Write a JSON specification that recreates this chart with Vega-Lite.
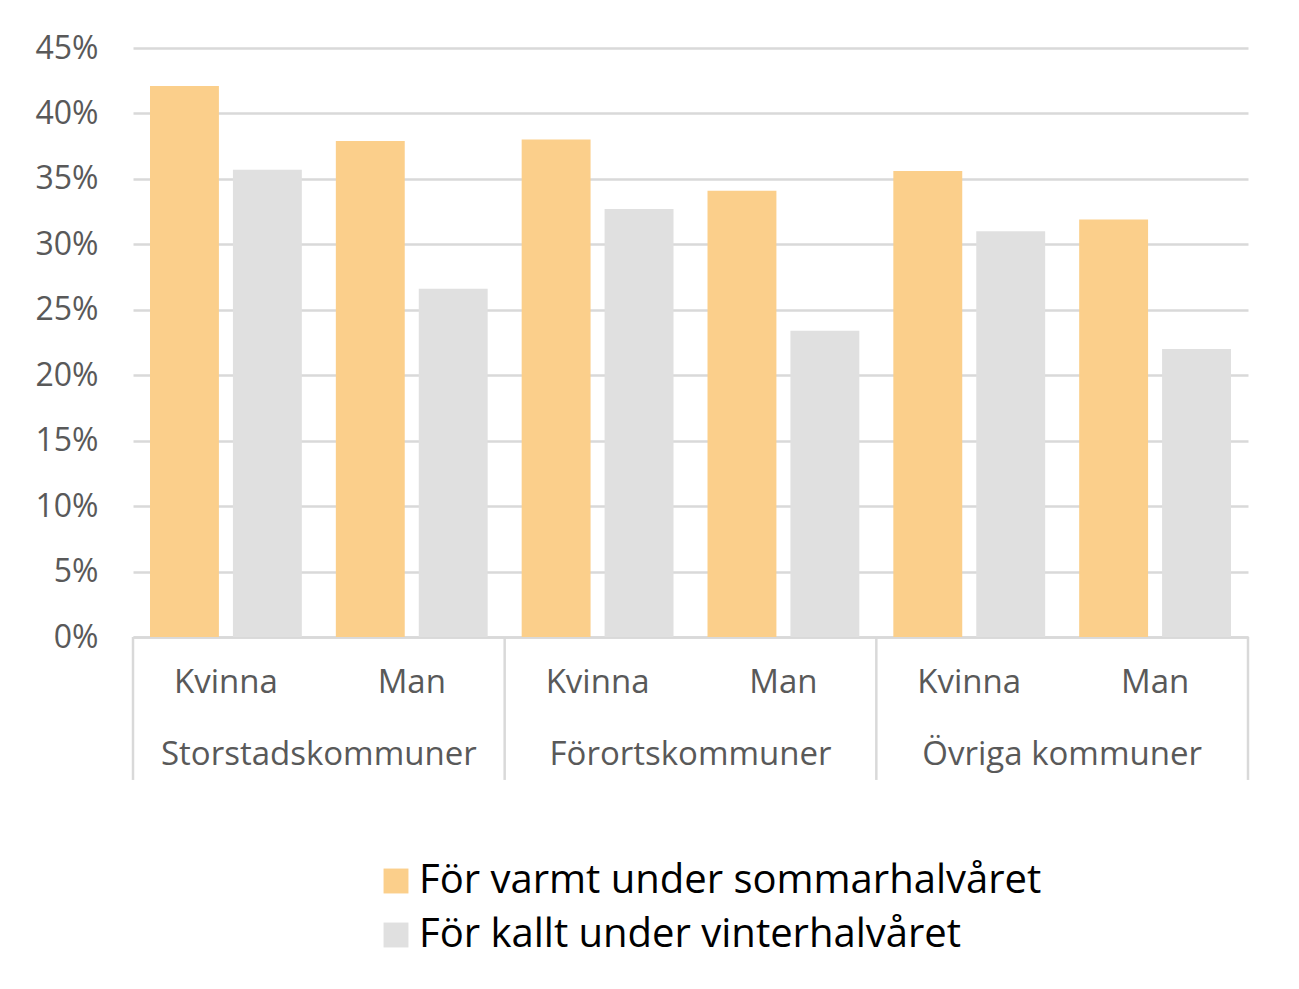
{
  "$schema": "https://vega.github.io/schema/vega-lite/v6.json",
  "autosize": {"type": "none"},
  "width": 1115,
  "height": 589,
  "padding": {"left": 133, "top": 48, "right": 51, "bottom": 352},
  "background": "white",
  "config": {
    "font": "Open Sans",
    "view": {"stroke": null}
  },
  "datasets": {
    "bars": [
      {"grupp": "Storstadskommuner|Kvinna", "serie": "För varmt under sommarhalvåret", "andel": 0.421},
      {"grupp": "Storstadskommuner|Kvinna", "serie": "För kallt under vinterhalvåret", "andel": 0.357},
      {"grupp": "Storstadskommuner|Man", "serie": "För varmt under sommarhalvåret", "andel": 0.379},
      {"grupp": "Storstadskommuner|Man", "serie": "För kallt under vinterhalvåret", "andel": 0.266},
      {"grupp": "Förortskommuner|Kvinna", "serie": "För varmt under sommarhalvåret", "andel": 0.380},
      {"grupp": "Förortskommuner|Kvinna", "serie": "För kallt under vinterhalvåret", "andel": 0.327},
      {"grupp": "Förortskommuner|Man", "serie": "För varmt under sommarhalvåret", "andel": 0.341},
      {"grupp": "Förortskommuner|Man", "serie": "För kallt under vinterhalvåret", "andel": 0.234},
      {"grupp": "Övriga kommuner|Kvinna", "serie": "För varmt under sommarhalvåret", "andel": 0.356},
      {"grupp": "Övriga kommuner|Kvinna", "serie": "För kallt under vinterhalvåret", "andel": 0.310},
      {"grupp": "Övriga kommuner|Man", "serie": "För varmt under sommarhalvåret", "andel": 0.319},
      {"grupp": "Övriga kommuner|Man", "serie": "För kallt under vinterhalvåret", "andel": 0.220}
    ],
    "starts": [
      {"grupp": "Storstadskommuner|Kvinna"},
      {"grupp": "Förortskommuner|Kvinna"},
      {"grupp": "Övriga kommuner|Kvinna"}
    ],
    "ends": [
      {"grupp": "Övriga kommuner|Man"}
    ],
    "kommuner": [
      {"grupp": "Storstadskommuner|Man", "kommun": "Storstadskommuner"},
      {"grupp": "Förortskommuner|Man", "kommun": "Förortskommuner"},
      {"grupp": "Övriga kommuner|Man", "kommun": "Övriga kommuner"}
    ]
  },
  "layer": [
    {
      "data": {"name": "bars"},
      "mark": {"type": "bar"},
      "encoding": {
        "x": {
          "field": "grupp",
          "type": "nominal",
          "sort": null,
          "scale": {"paddingInner": 0, "paddingOuter": 0},
          "axis": {
            "title": null,
            "labelAngle": 0,
            "labelExpr": "indexof(datum.label, 'Kvinna') >= 0 ? 'Kvinna' : 'Man'",
            "labelFontSize": 33,
            "labelColor": "#595959",
            "labelPadding": 29,
            "ticks": false,
            "domainColor": "#D9D9D9",
            "domainWidth": 2.5,
            "grid": false
          }
        },
        "xOffset": {
          "field": "serie",
          "type": "nominal",
          "sort": null,
          "scale": {"paddingInner": 0.169, "paddingOuter": 0.205}
        },
        "y": {
          "field": "andel",
          "type": "quantitative",
          "scale": {"domain": [0, 0.45], "nice": false},
          "axis": {
            "title": null,
            "format": ".0%",
            "values": [0, 0.05, 0.1, 0.15, 0.2, 0.25, 0.3, 0.35, 0.4, 0.45],
            "labelFontSize": 32,
            "labelColor": "#595959",
            "labelPadding": 35,
            "ticks": false,
            "tickSize": 0,
            "domain": false,
            "gridColor": "#D9D9D9",
            "gridWidth": 2.5
          }
        },
        "color": {
          "field": "serie",
          "type": "nominal",
          "sort": null,
          "scale": {"range": ["#FBCF8B", "#E0E0E0"]},
          "legend": {
            "title": null,
            "orient": "none",
            "direction": "vertical",
            "legendX": 243,
            "legendY": 813,
            "symbolType": "square",
            "symbolSize": 620,
            "symbolStrokeWidth": 0,
            "labelFontSize": 40,
            "labelColor": "#000000",
            "labelFont": "Open Sans",
            "labelLimit": 900,
            "rowPadding": 14,
            "labelOffset": 3
          }
        }
      }
    },
    {
      "data": {"name": "starts"},
      "mark": {"type": "rule", "color": "#D9D9D9", "strokeWidth": 2.5},
      "encoding": {
        "x": {"field": "grupp", "type": "nominal", "sort": null, "bandPosition": 0},
        "y": {"datum": 0},
        "y2": {"datum": -0.1092}
      }
    },
    {
      "data": {"name": "ends"},
      "mark": {"type": "rule", "color": "#D9D9D9", "strokeWidth": 2.5},
      "encoding": {
        "x": {"field": "grupp", "type": "nominal", "sort": null, "bandPosition": 1},
        "y": {"datum": 0},
        "y2": {"datum": -0.1092}
      }
    },
    {
      "data": {"name": "kommuner"},
      "mark": {"type": "text", "fontSize": 33, "color": "#595959", "baseline": "middle", "align": "center"},
      "encoding": {
        "x": {"field": "grupp", "type": "nominal", "sort": null, "bandPosition": 0},
        "y": {"datum": -0.0905},
        "text": {"field": "kommun"}
      }
    }
  ]
}
